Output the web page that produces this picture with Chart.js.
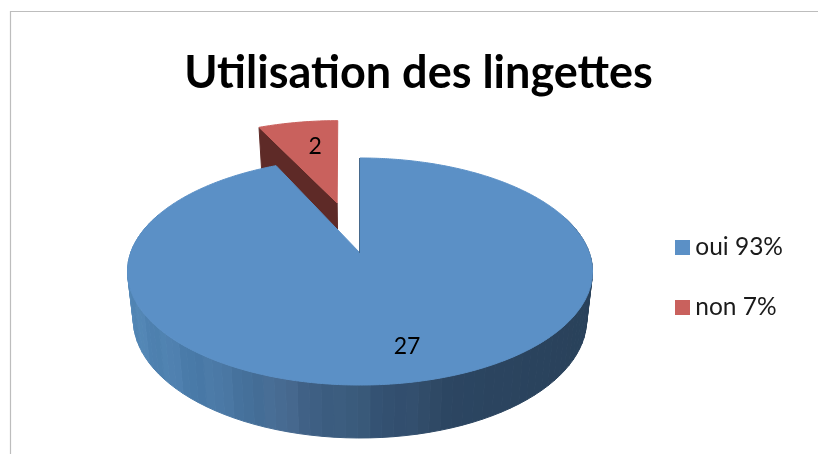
<!DOCTYPE html>
<html><head><meta charset="utf-8">
<style>html,body{margin:0;padding:0;background:#fff}#w{width:818px;height:454px;position:relative}canvas{display:block}</style>
<script src="https://cdn.jsdelivr.net/npm/chart.js@4"></script></head>
<body><div id="w"><canvas id="c" width="818" height="454"></canvas></div>
<script>
const titleText = 'Utilisation des lingettes';
const categories = ['oui 93%', 'non 7%'];
const counts = [27, 2];
const colors = ['#5b90c6', '#c9615d'];
const explode = [0, 50];

const view = {x0: 360, y0: 253, a: 229.4, b: 110.5, k: 0.163, h: 47.1, s: 0.975};
const labelAt = [{r: 0.75, dx: 5, dy: 2}, {r: 0.65, dx: 3, dy: -2}];
const wallStops = [[130,[82,134,181]],[200,[74,122,168]],[250,[71,113,155]],[300,[67,100,137]],[350,[56,89,122]],[400,[52,80,112]],[440,[44,70,98]],[600,[41,65,90]]];

function faceAt(u, v) { const w = 1 - view.k * v; return [view.x0 + view.a * u / w, view.y0 + view.b * v / w]; }
function baseAt(u, v) { const w = 1 - view.k * v; return [view.x0 + view.a * view.s * u / w, view.y0 + (view.b * view.s * v + view.h) / w]; }
function wallColor(x, i) {
  let c = wallStops[wallStops.length - 1][1];
  for (let j = 1; j < wallStops.length; j++) {
    if (x <= wallStops[j][0]) {
      const p = wallStops[j - 1], q = wallStops[j], t = Math.max(0, (x - p[0]) / (q[0] - p[0]));
      c = p[1].map((m, n) => m + (q[1][n] - m) * t); break;
    }
  }
  const d = x < 440 ? (i % 2 ? 2 : -2) : 0;
  return 'rgb(' + c.map(m => Math.round(m + d)).join(',') + ')';
}
function poly(ctx, pts, fill) {
  ctx.beginPath(); pts.forEach((p, i) => i ? ctx.lineTo(p[0], p[1]) : ctx.moveTo(p[0], p[1])); ctx.closePath();
  ctx.fillStyle = fill; ctx.fill(); ctx.strokeStyle = fill; ctx.lineWidth = 1; ctx.stroke();
}
function geometry(el) {
  const R = el.outerRadius, d = (el.options.offset || 0) / R, mid = (el.startAngle + el.endAngle) / 2;
  return {R, mid, ou: d * Math.cos(mid), ov: d * Math.sin(mid), start: el.startAngle, end: el.endAngle};
}
function arcPts(g, fn, step) {
  const n = Math.max(2, Math.ceil((g.end - g.start) / step)), pts = [];
  for (let i = 0; i <= n; i++) { const t = g.start + (g.end - g.start) * i / n; pts.push(fn(g.ou + Math.cos(t), g.ov + Math.sin(t))); }
  return pts;
}
function swatch(color) {
  const s = document.createElement('canvas'); s.width = 15; s.height = 15;
  const c = s.getContext('2d'); c.fillStyle = color; c.fillRect(0, 0, 15, 15);
  return s;
}
const pie3d = {
  id: 'pie3d',
  beforeDraw(chart) {
    const c = chart.ctx; c.save(); c.strokeStyle = '#bdbdbd'; c.lineWidth = 1.2;
    c.beginPath(); c.moveTo(818, 11.5); c.lineTo(10.5, 11.5); c.lineTo(10.5, 454); c.stroke(); c.restore();
  },
  beforeDatasetsDraw(chart) {
    const ctx = chart.ctx, arcs = chart.getDatasetMeta(0).data;
    ctx.save();
    // red slice: far side, painted first so that the blue face covers it
    const gr = geometry(arcs[1]);
    const apexT = faceAt(gr.ou, gr.ov), apexB = baseAt(gr.ou, gr.ov);
    gr.ou -= 0.013;
    const t1 = faceAt(gr.ou + Math.cos(gr.start), gr.ov + Math.sin(gr.start)), b1 = baseAt(gr.ou + Math.cos(gr.start), gr.ov + Math.sin(gr.start));
    poly(ctx, [apexT, t1, b1, apexB], '#5e2a27');
    poly(ctx, [apexT].concat(arcPts(gr, faceAt, 0.02)), arcs[1].options.backgroundColor);
    // blue slice: outer wall in angular bands, then face
    const gb = geometry(arcs[0]);
    const n = Math.ceil((gb.end - gb.start) / 0.045);
    for (let i = 0; i < n; i++) {
      const a0 = gb.start + (gb.end - gb.start) * i / n, a1 = gb.start + (gb.end - gb.start) * (i + 1) / n;
      if (Math.sin((a0 + a1) / 2) < -0.35) continue;
      const p = [faceAt(Math.cos(a0), Math.sin(a0)), faceAt(Math.cos(a1), Math.sin(a1)), baseAt(Math.cos(a1), Math.sin(a1)), baseAt(Math.cos(a0), Math.sin(a0))];
      poly(ctx, p, wallColor((p[0][0] + p[1][0]) / 2, Math.floor(i / 3)));
    }
    poly(ctx, [faceAt(gb.ou, gb.ov)].concat(arcPts(gb, faceAt, 0.01)), arcs[0].options.backgroundColor);
    ctx.strokeStyle = '#46698c'; ctx.lineWidth = 1;
    ctx.beginPath(); const e = faceAt(Math.cos(gb.start), Math.sin(gb.start)), o = faceAt(0, 0);
    ctx.moveTo(e[0] - 0.5, e[1]); ctx.lineTo(o[0] - 0.5, o[1]); ctx.stroke();
    // value labels
    ctx.fillStyle = '#000'; ctx.font = '23px Lato, "Open Sans", sans-serif'; ctx.textAlign = 'center'; ctx.textBaseline = 'middle';
    arcs.forEach((el, i) => {
      const g = geometry(el), L = labelAt[i];
      const p = faceAt(g.ou + L.r * Math.cos(g.mid), g.ov + L.r * Math.sin(g.mid));
      ctx.fillText(String(counts[i]), p[0] + L.dx, p[1] + L.dy);
    });
    ctx.restore();
    return false;
  }
};
new Chart(document.getElementById('c'), {
  type: 'pie',
  data: {labels: categories, datasets: [{data: counts, backgroundColor: colors, borderWidth: 0, offset: explode}]},
  options: {
    responsive: false, animation: false, rotation: 0, radius: 100,
    layout: {padding: {left: 44, right: 25, top: 0, bottom: 0}},
    plugins: {
      tooltip: {enabled: false},
      title: {display: true, text: titleText, color: '#000', font: {family: 'Lato, "Open Sans", sans-serif', size: 45, weight: 'bold'}, padding: {top: 46, bottom: 0}},
      legend: {position: 'right', fullSize: false, labels: {
        color: '#1a1a1a', font: {family: 'Lato, "Open Sans", sans-serif', size: 24.5}, boxHeight: 15, padding: 35.5,
        usePointStyle: true, pointStyleWidth: 1,
        generateLabels: () => categories.map((t, i) => ({text: t, index: i, fillStyle: colors[i], strokeStyle: colors[i], lineWidth: 0, fontColor: '#1a1a1a', pointStyle: swatch(colors[i])}))
      }}
    }
  },
  plugins: [pie3d]
});
</script></body></html>
